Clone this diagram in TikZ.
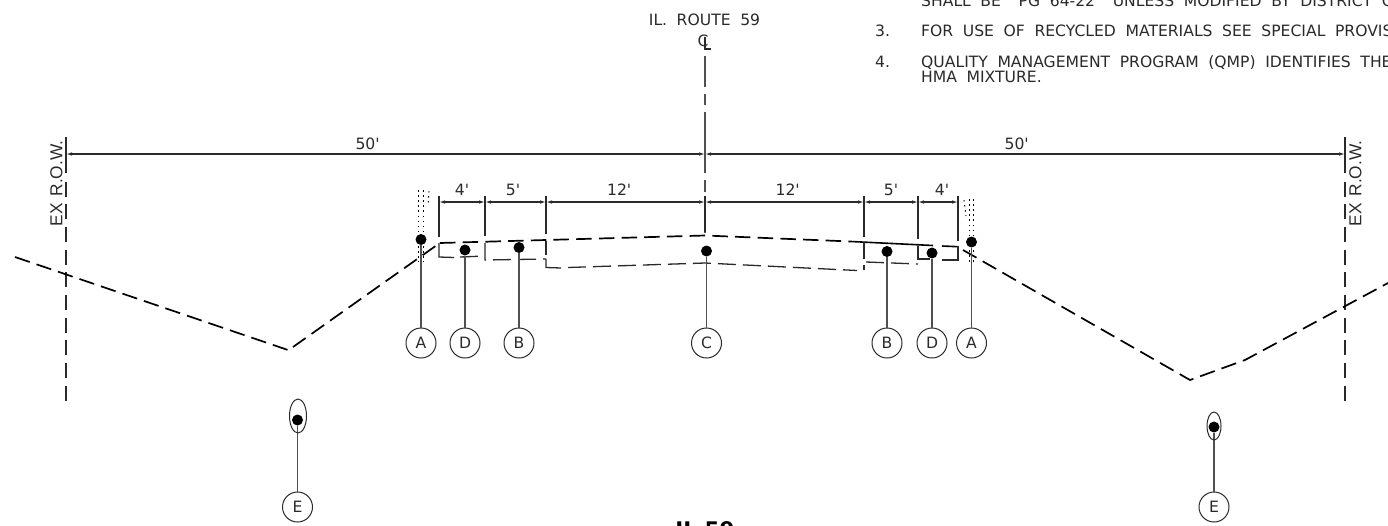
\documentclass[tikz,border=0pt]{standalone}
\usepackage{fontspec}
\setmainfont{DejaVu Sans}
\newfontfamily\rowfont{Liberation Sans}
\usepackage{tikz}
\usetikzlibrary{arrows.meta,positioning,calc,shapes}

\definecolor{inkgray}{HTML}{2A2A2A}
\definecolor{leadgray}{HTML}{505050}

\newcommand{\ftmark}{\textquotesingle}
\newcommand{\widewords}{\spaceskip 9.6pt\relax}
\newcommand{\rowwords}{\spaceskip 7pt\relax}

\tikzset{
  grade/.style={line width=1.7pt,black,dash pattern=on 15.5pt off 7.2pt},
  subgrade/.style={line width=1.3pt,inkgray,dash pattern=on 18pt off 7pt},
  rowline/.style={line width=1.6pt,inkgray},
  rowdash/.style={rowline,dash pattern=on 15pt off 7.7pt},
  clline/.style={line width=1.4pt,leadgray},
  dimline/.style={line width=1.1pt,inkgray,{Latex[length=6pt,width=3.5pt]}-{Latex[length=6pt,width=3.5pt]}},
  dimtick/.style={line width=1.3pt,inkgray},
  dimtext/.style={font=\fontsize{15.6}{15.6}\selectfont\widewords,text=inkgray,inner sep=0pt},
  notetext/.style={font=\fontsize{15.6}{15.6}\selectfont\widewords,text=inkgray,inner sep=0pt,anchor=base west},
  rowtext/.style={font=\rowfont\fontsize{17.3}{17.3}\selectfont\rowwords,text=inkgray,inner sep=0pt,rotate=90},
  pointdot/.style={circle,fill=black,minimum size=11pt,inner sep=0pt},
  callout/.style={circle,draw=inkgray,line width=1pt,minimum size=30pt,inner sep=0pt,
    font=\fontsize{15.6}{15.6}\selectfont,text=inkgray},
  leader/.style={line width=1.3pt,leadgray},
  earth/.style={line width=0.9pt,black,dash pattern=on 1.5pt off 3.6pt},
}

\begin{document}
\begin{tikzpicture}[x=1pt,y=-1pt]
  \useasboundingbox (0,0) rectangle (1388,525);
  \clip (0,0) rectangle (1388,525);

  % clipped notes, top right
  \node[notetext] at (921,6) {SHALL BE "PG 64-22" UNLESS MODIFIED BY DISTRICT O};
  \node[notetext] at (875,36.7) {3.};
  \node[notetext] at (921,36.7) {FOR USE OF RECYCLED MATERIALS SEE SPECIAL PROVIS};
  \node[notetext] at (875,67.5) {4.};
  \node[notetext] at (921,67.5) {QUALITY MANAGEMENT PROGRAM (QMP) IDENTIFIES THE};
  \node[notetext] at (921,82.7) {HMA MIXTURE.};

  % route label
  \node[dimtext] (routename) at (704.5,20) {IL. ROUTE 59};
  \node[dimtext] at (703,41) {C};
  \draw[line width=1.1pt,inkgray] (705,37) -- (705,49) -- (711,49);

  % bottom title, cut by the page
  \node[inner sep=0pt,anchor=base,font=\bfseries\fontsize{21.5}{21.5}\selectfont] (viewname) at (705,537.7) {IL 59};

  % centre line
  \draw[clline] (705,56) -- (705,87);
  \draw[clline] (705,94) -- (705,105);
  \draw[clline] (705,112) -- (705,173);
  \draw[clline] (705,180) -- (705,192);
  \draw[clline] (705,197) -- (705,233);

  % right of way lines
  \foreach \x in {66,1345} {
    \draw[rowline] (\x,137) -- (\x,173);
    \draw[rowdash] (\x,181.5) -- (\x,402);
  }
  \node[rowtext] at (56.5,183.5) {EX R.O.W.};
  \node[rowtext] at (1355.5,183.5) {EX R.O.W.};

  % 50 ft dimensions
  \coordinate (rowl) at (66,154);
  \coordinate (rowr) at (1345,154);
  \coordinate (clhigh) at (705,154);
  \draw[dimline] (rowl) -- (clhigh) node[dimtext,pos=0.472,yshift=10pt] {50\ftmark};
  \draw[dimline] (clhigh) -- (rowr) node[dimtext,pos=0.487,yshift=10pt] {50\ftmark};

  % lane dimensions
  \foreach \x/\yend/\nm in {439/237/ta,485/236/tb,546/234/tc,705/232/td,864/237/te,918/239/tf,958/241/tg} {
    \coordinate (\nm) at (\x,202);
    \draw[dimtick] (\x,196) -- (\x,\yend);
  }
  \draw[dimline] (ta) -- (tb) node[dimtext,midway,yshift=12pt] {4\ftmark};
  \draw[dimline] (tb) -- (tc) node[dimtext,pos=0.46,yshift=12pt] {5\ftmark};
  \draw[dimline] (tc) -- (td) node[dimtext,pos=0.46,yshift=12pt] {12\ftmark};
  \draw[dimline] (td) -- (te) node[dimtext,pos=0.52,yshift=12pt] {12\ftmark};
  \draw[dimline] (te) -- (tf) node[dimtext,midway,yshift=12pt] {5\ftmark};
  \draw[dimline] (tf) -- (tg) node[dimtext,pos=0.6,yshift=12pt] {4\ftmark};

  % existing ground
  \draw[grade] (15,257) -- (288,350);
  \draw[grade] (293,347) -- (437,245);
  \draw[grade] (963,250) -- (1190,380) -- (1245,360) -- (1388,283);

  % pavement surface
  \draw[grade] (440,243) -- (546,240) -- (705,235.5) -- (851,241.5);
  \draw[line width=1.6pt,black] (851,241.5) -- (933,245.5);
  \draw[line width=1.6pt,black] (942,246) -- (958,246.7);

  % shoulder and lane bottoms
  \draw[line width=1.3pt,inkgray] (439,243) -- (439,257) -- (454,257.5);
  \draw[subgrade] (460,257) -- (485,256);
  \draw[subgrade] (485,243) -- (485,260) -- (546,259);
  \draw[line width=1.3pt,inkgray] (546,241) -- (546,255);
  \draw[line width=1.3pt,inkgray] (546,259) -- (546,267.5) -- (561,268);
  \draw[subgrade] (568,267.5) -- (705,263) -- (857,270.5);
  \draw[line width=1.3pt,inkgray] (864,242) -- (864,259);
  \draw[line width=1.3pt,inkgray] (864,265) -- (864,270);
  \draw[subgrade] (866,262) -- (918,264);
  \draw[line width=1.3pt,inkgray] (918,246) -- (918,259) -- (930,259);
  \draw[line width=1.3pt,inkgray] (942,260) -- (958,260) -- (958,246);

  % dotted hatch beside the shoulders
  \foreach \x in {418,423.5} \draw[earth] (\x,190) -- (\x,262);
  \draw[earth] (429,191) -- (428,206);
  \foreach \x in {969,973.5} \draw[earth] (\x,199) -- (\x,262);
  \draw[earth] (964,200) -- (966,216);

  % points and callouts
  \foreach \nm/\x/\y/\lab/\cx/\cy in {
    aleft/421/239.5/A/421/343,
    dleft/465/250/D/465/343,
    bleft/519/247.5/B/519/343,
    cmid/706.5/251/C/706.5/343,
    bright/887/251.5/B/887/343,
    dright/932/253/D/932/343,
    aright/971.5/242/A/971.5/343,
    eleft/297.5/420/E/297.5/507,
    eright/1214/427/E/1214/507} {
    \node[pointdot] (\nm) at (\x,\y) {};
    \node[callout] (\nm tag) at (\cx,\cy) {\lab};
    \draw[leader] (\nm) -- (\nm tag);
  }

  % ditch drains
  \node[ellipse,draw=inkgray,line width=1pt,minimum width=17pt,minimum height=34pt,inner sep=0pt] (drainl) at (298,416) {};
  \node[ellipse,draw=inkgray,line width=1pt,minimum width=14pt,minimum height=28pt,inner sep=0pt] (drainr) at (1214,426) {};

\end{tikzpicture}
\end{document}
